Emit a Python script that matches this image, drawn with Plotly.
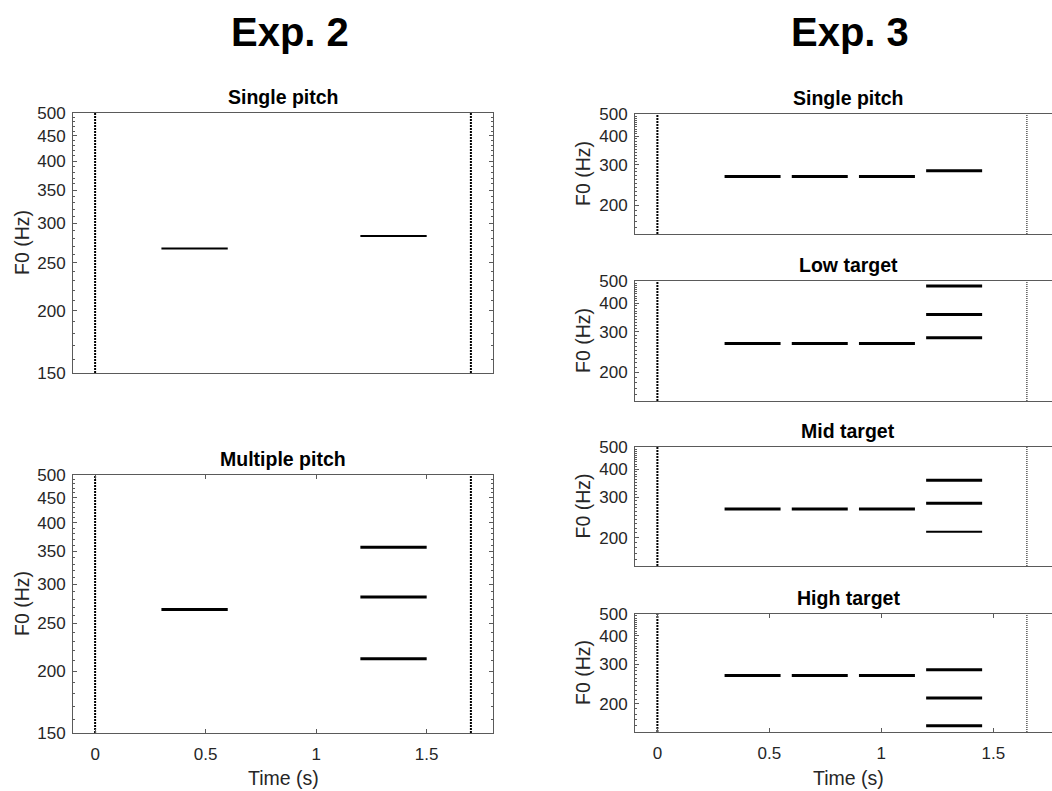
import math
import plotly.graph_objects as go

# ---------------- data ----------------
# Exp. 2 : two tone intervals, F0 values (Hz) per interval
EXP2_ONSETS = [0.3, 1.2]
EXP2_OFFSETS = [0.6, 1.5]
EXP2_SINGLE = [[267], [283]]
EXP2_MULTIPLE = [[267], [212, 283, 357]]
EXP2_MARKERS = [0, 1.7]

# Exp. 3 : four tone intervals
EXP3_ONSETS = [0.3, 0.6, 0.9, 1.2]
EXP3_OFFSETS = [0.55, 0.85, 1.15, 1.45]
EXP3_SINGLE = [[267], [267], [267], [283]]
EXP3_LOW = [[267], [267], [267], [283, 357, 476]]
EXP3_MID = [[267], [267], [267], [212, 283, 357]]
EXP3_HIGH = [[267], [267], [267], [160, 212, 283]]
EXP3_MARKERS = [0, 1.65]

Y_RANGE = [150, 500]
EXP2_YTICKS = [150, 200, 250, 300, 350, 400, 450, 500]
EXP3_YTICKS = [200, 300, 400, 500]
Y_MINOR = [v for v in range(150, 501, 10)]
X_TICKS = [0, 0.5, 1, 1.5]
X_TICKTEXT = ["0", "0.5", "1", "1.5"]

# ---------------- layout helpers ----------------
W, H = 1052, 791
FONT = "Liberation Sans, Arial, Helvetica, sans-serif"
TXT = "#262626"
AXC = "#5a5a5a"


def fx(px):
    return px / W


def fy(py):
    return 1 - py / H


panels = [
    dict(title="Single pitch", data=EXP2_SINGLE, on=EXP2_ONSETS, off=EXP2_OFFSETS,
         markers=EXP2_MARKERS, mw=[2, 2], xpx=(73, 493), ypx=(113, 373), xr=[-0.1, 1.8],
         yt=EXP2_YTICKS, bottom=False, lw=2, thin=[], right=True, tcx=283),
    dict(title="Multiple pitch", data=EXP2_MULTIPLE, on=EXP2_ONSETS, off=EXP2_OFFSETS,
         markers=EXP2_MARKERS, mw=[2, 2], xpx=(73, 493), ypx=(475, 733), xr=[-0.1, 1.8],
         yt=EXP2_YTICKS, bottom=True, lw=3, thin=[], right=True, tcx=283),
    dict(title="Single pitch", data=EXP3_SINGLE, on=EXP3_ONSETS, off=EXP3_OFFSETS,
         markers=EXP3_MARKERS, mw=[2, 1], xpx=(635, 1052), ypx=(114, 234), xr=[-0.1, 1.762],
         yt=EXP3_YTICKS, bottom=False, lw=3, thin=[], right=False, tcx=848),
    dict(title="Low target", data=EXP3_LOW, on=EXP3_ONSETS, off=EXP3_OFFSETS,
         markers=EXP3_MARKERS, mw=[2, 1], xpx=(635, 1052), ypx=(281, 401), xr=[-0.1, 1.762],
         yt=EXP3_YTICKS, bottom=False, lw=3, thin=[], right=False, tcx=848),
    dict(title="Mid target", data=EXP3_MID, on=EXP3_ONSETS, off=EXP3_OFFSETS,
         markers=EXP3_MARKERS, mw=[2, 1], xpx=(635, 1052), ypx=(447, 566), xr=[-0.1, 1.762],
         yt=EXP3_YTICKS, bottom=False, lw=3, thin=[212], right=False, tcx=848),
    dict(title="High target", data=EXP3_HIGH, on=EXP3_ONSETS, off=EXP3_OFFSETS,
         markers=EXP3_MARKERS, mw=[2, 1], xpx=(635, 1052), ypx=(614, 732), xr=[-0.1, 1.762],
         yt=EXP3_YTICKS, bottom=True, lw=3, thin=[], right=False, tcx=848),
]

fig = go.Figure()
layout = dict(
    width=W, height=H, margin=dict(l=0, r=0, t=0, b=0, autoexpand=False),
    paper_bgcolor="white", plot_bgcolor="white", showlegend=False,
    font=dict(family=FONT, color=TXT, size=17),
)
annotations = []

for i, p in enumerate(panels, start=1):
    xa = "x" if i == 1 else f"x{i}"
    ya = "y" if i == 1 else f"y{i}"

    # vertical dotted markers
    for m, w in zip(p["markers"], p["mw"]):
        dash = "2px,1px" if w >= 2 else "1px,1px"
        fig.add_trace(go.Scatter(x=[m, m], y=Y_RANGE, mode="lines", xaxis=xa, yaxis=ya,
                                 line=dict(color="black", width=w, dash=dash),
                                 hoverinfo="skip"))

    # tone segments
    groups = {}
    for on, off, f0s in zip(p["on"], p["off"], p["data"]):
        for f in f0s:
            w = 2 if f in p["thin"] else p["lw"]
            gx, gy = groups.setdefault(w, ([], []))
            gx += [on, off, None]
            gy += [f, f, None]
    for w, (gx, gy) in groups.items():
        fig.add_trace(go.Scatter(x=gx, y=gy, mode="lines", xaxis=xa, yaxis=ya,
                                 line=dict(color="black", width=w), hoverinfo="skip"))

    xkey = "xaxis" if i == 1 else f"xaxis{i}"
    ykey = "yaxis" if i == 1 else f"yaxis{i}"
    xd = [fx(p["xpx"][0]), fx(p["xpx"][1])]
    yd = [fy(p["ypx"][1]), fy(p["ypx"][0])]

    xax = dict(domain=xd, range=p["xr"], anchor=ya, showgrid=False, zeroline=False,
               showline=True, linecolor=AXC, linewidth=1, fixedrange=True, automargin=False)
    if p["bottom"]:
        xax.update(mirror="ticks", ticks="inside", ticklen=4, tickcolor=AXC,
                   tickvals=X_TICKS, ticktext=X_TICKTEXT, showticklabels=True,
                   tickfont=dict(size=17, color=TXT, family=FONT), ticklabelstandoff=6)
    else:
        xax.update(mirror=True, ticks="", showticklabels=False)
    layout[xkey] = xax

    yax = dict(domain=yd, type="log", range=[math.log10(Y_RANGE[0]), math.log10(Y_RANGE[1])],
               anchor=xa, showgrid=False, zeroline=False, showline=True, linecolor=AXC,
               linewidth=1, ticks="inside", ticklen=4, tickcolor=AXC,
               tickvals=p["yt"], ticktext=[str(v) for v in p["yt"]],
               tickfont=dict(size=17, color=TXT, family=FONT), ticklabelstandoff=3,
               minor=dict(tickvals=Y_MINOR, ticks="inside", ticklen=2, tickcolor=AXC),
               mirror="ticks" if p["right"] else False, fixedrange=True, automargin=False)
    layout[ykey] = yax

    # subplot title
    annotations.append(dict(text="<b>%s</b>" % p["title"], x=fx(p["tcx"]),
                            y=fy(p["ypx"][0] - 16), xref="paper", yref="paper",
                            showarrow=False, xanchor="center", yanchor="middle",
                            font=dict(size=19.5, color="black", family=FONT)))
    # y label
    ycx = 22 if p["right"] else 583
    annotations.append(dict(text="F0 (Hz)", textangle=-90, x=fx(ycx),
                            y=fy((p["ypx"][0] + p["ypx"][1]) / 2), xref="paper", yref="paper",
                            showarrow=False, xanchor="center", yanchor="middle",
                            font=dict(size=19.5, color=TXT, family=FONT)))
    if p["bottom"]:
        annotations.append(dict(text="Time (s)", x=fx(p["tcx"]), y=fy(778),
                                xref="paper", yref="paper", showarrow=False,
                                xanchor="center", yanchor="middle",
                                font=dict(size=19.5, color=TXT, family=FONT)))

for txt, cx in [("Exp. 2", 290), ("Exp. 3", 850)]:
    annotations.append(dict(text="<b>%s</b>" % txt, x=fx(cx), y=fy(32), xref="paper",
                            yref="paper", showarrow=False, xanchor="center",
                            yanchor="middle", font=dict(size=40, color="black", family=FONT)))

layout["annotations"] = annotations
fig.update_layout(**layout)
fig.write_html("out.html", config={"displayModeBar": False})
